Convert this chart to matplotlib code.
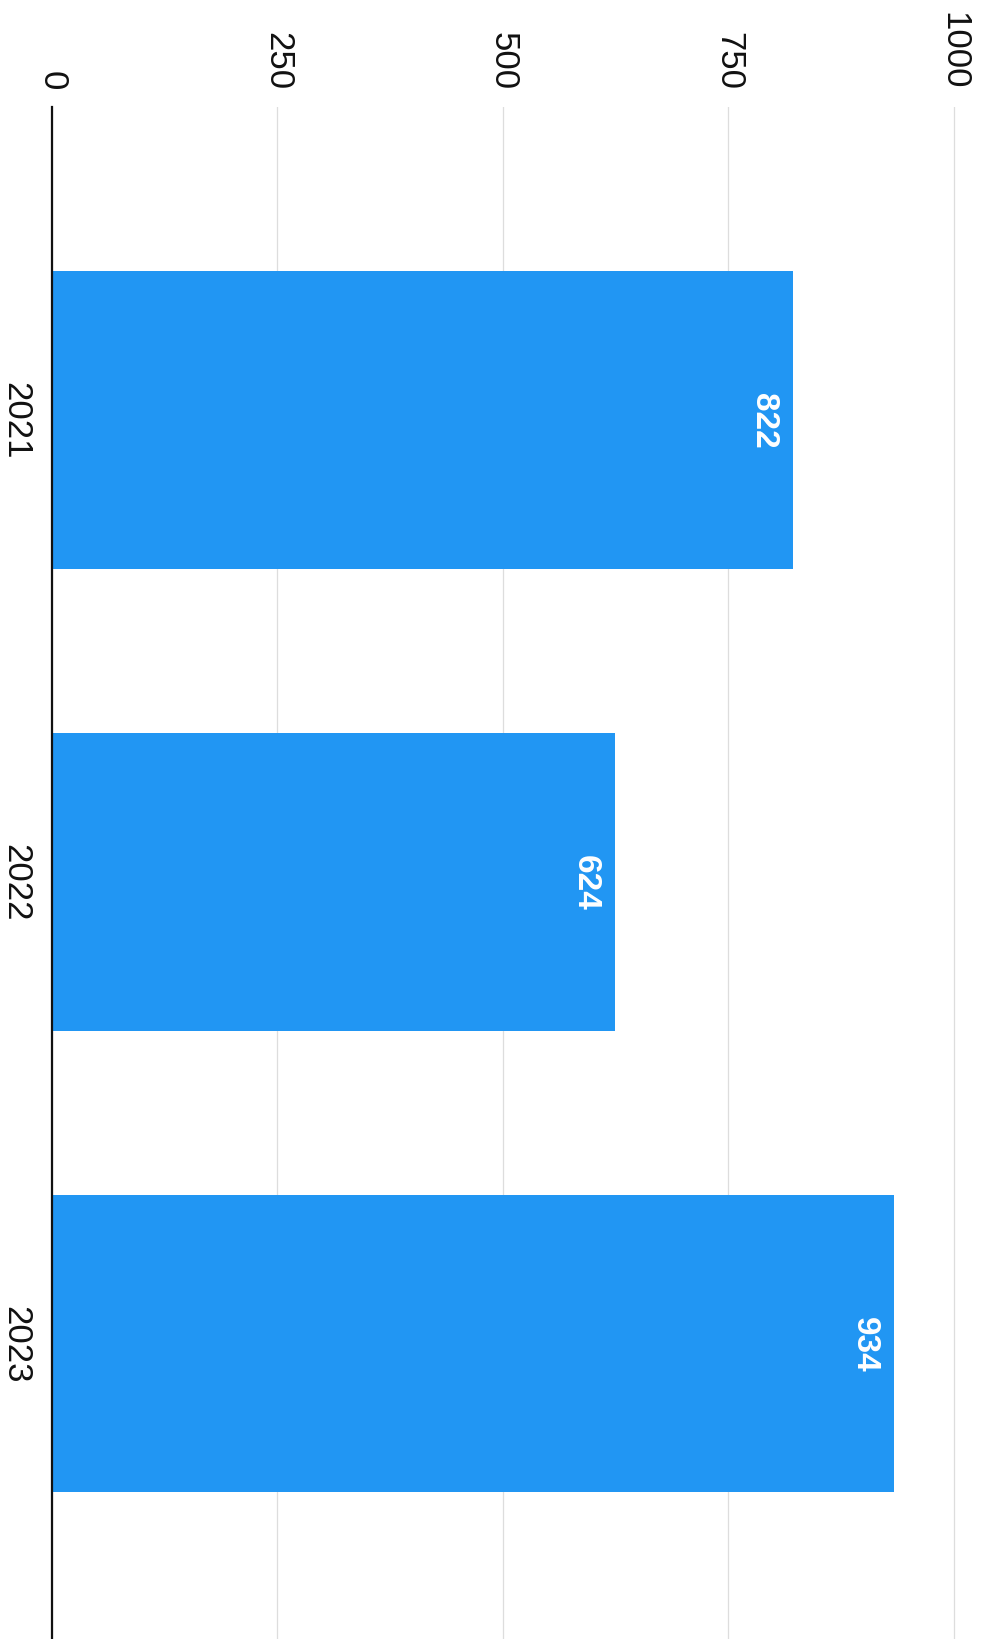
import matplotlib.pyplot as plt

years = ["2021", "2022", "2023"]
counts = [822, 624, 934]
value_ticks = [0, 250, 500, 750, 1000]

plt.rcParams['font.family'] = ['Liberation Sans', 'DejaVu Sans']

fig = plt.figure(figsize=(9.85, 16.4), dpi=100)
# axes placed in pixels: left edge = value 0, top edge = start of the gridlines
ax = fig.add_axes([52 / 985, 0, 908 / 985, 1532 / 1640])

pos = list(range(len(years)))
bars = ax.barh(pos, counts, height=0.645, color="#2196f3", zorder=2)

ax.set_xlim(0, 1007)
ax.set_ylim(2.64, -0.678)

# value axis along the top, labels turned like the rest of the chart
ax.xaxis.tick_top()
ax.set_xticks(value_ticks)
ax.set_xticklabels([str(v) for v in value_ticks], rotation=270)
ax.tick_params(axis="x", length=0, pad=13, labelsize=25, labelcolor="#111111")
ax.grid(axis="x", color="#dddddd", linewidth=0.9, zorder=0)

ax.set_yticks(pos)
ax.set_yticklabels(years, rotation=270, va="center")
ax.tick_params(axis="y", length=0, pad=14, labelsize=25, labelcolor="#111111")

for side in ["top", "right", "bottom"]:
    ax.spines[side].set_visible(False)
ax.spines["left"].set_linewidth(1.6)
ax.spines["left"].set_color("#111111")
ax.spines["left"].set_zorder(3)

# value labels inside the bar ends
for p, c in zip(pos, counts):
    ax.annotate(str(c), xy=(c, p), xytext=(-10, 0), textcoords="offset points",
                rotation=270, color="white", fontsize=24, fontweight="bold",
                ha="right", va="center", zorder=4)

plt.savefig("out.png", dpi=100)
plt.close()
